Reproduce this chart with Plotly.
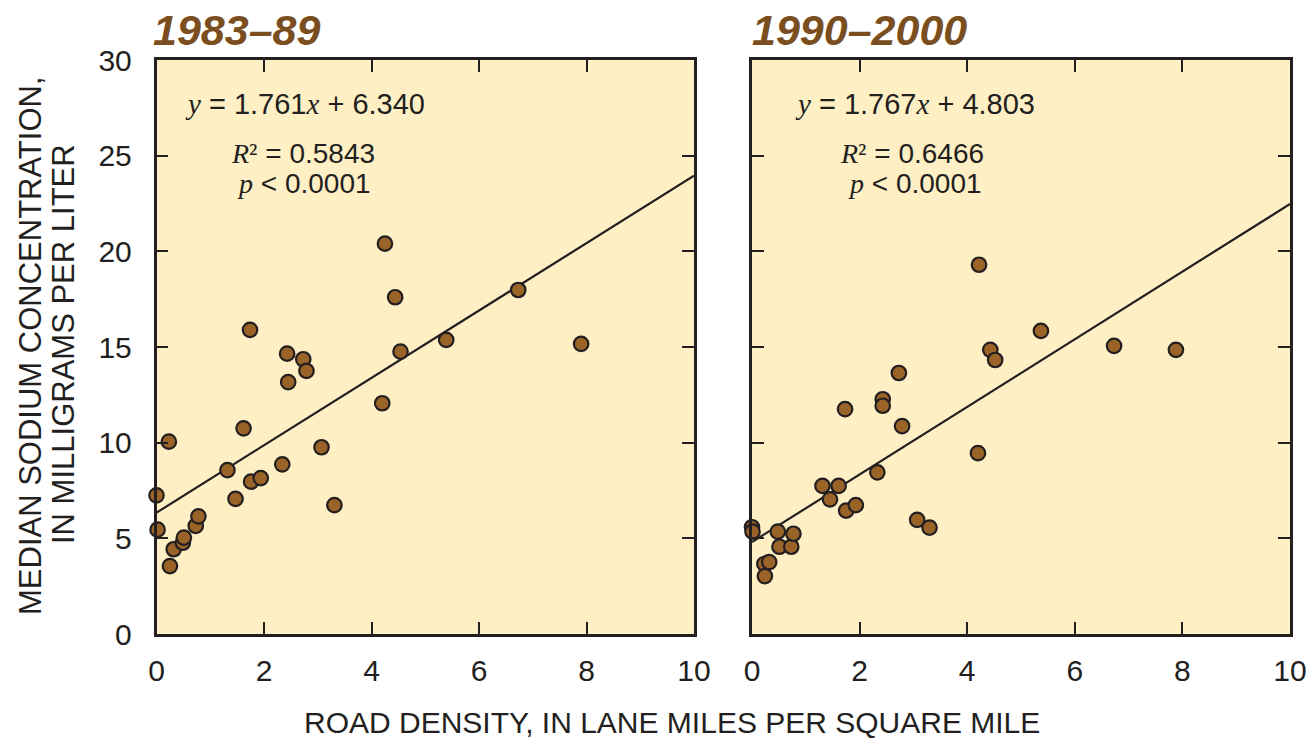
import plotly.graph_objects as go

# ---- data ----
x_8389 = [0.00, 0.02, 0.23, 0.25, 0.32, 0.49, 0.51, 0.73, 0.78, 1.32, 1.47, 1.62, 1.74, 1.76, 1.94,
          2.34, 2.43, 2.45, 2.73, 2.79, 3.07, 3.31, 4.20, 4.25, 4.44, 4.54, 5.39, 6.73, 7.90]
y_8389 = [7.25, 5.45, 10.05, 3.55, 4.43, 4.77, 5.04, 5.65, 6.15, 8.57, 7.06, 10.75, 15.90, 7.96, 8.15,
          8.87, 14.65, 13.16, 14.36, 13.75, 9.76, 6.74, 12.06, 20.40, 17.60, 14.76, 15.37, 17.98, 15.16]

x_9000 = [0.00, 0.01, 0.23, 0.24, 0.32, 0.48, 0.51, 0.73, 0.77, 1.31, 1.45, 1.61, 1.73, 1.75, 1.93,
          2.33, 2.43, 2.43, 2.73, 2.79, 3.07, 3.30, 4.20, 4.22, 4.43, 4.52, 5.37, 6.73, 7.88]
y_9000 = [5.58, 5.35, 3.66, 3.03, 3.76, 5.35, 4.56, 4.56, 5.24, 7.74, 7.04, 7.74, 11.75, 6.45, 6.74,
          8.45, 12.27, 11.93, 13.64, 10.86, 5.96, 5.56, 9.45, 19.30, 14.85, 14.32, 15.84, 15.06, 14.85]

panel_titles = ["1983\u201389", "1990\u20132000"]
slopes = [1.761, 1.767]
intercepts = [6.340, 4.803]
r2_values = ["0.5843", "0.6466"]
p_text = "0.0001"
x_range = [0, 10]
y_range = [0, 30]
x_ticks = [0, 2, 4, 6, 8, 10]
y_ticks = [0, 5, 10, 15, 20, 25, 30]
x_title = "ROAD DENSITY, IN LANE MILES PER SQUARE MILE"
y_title_lines = ["MEDIAN SODIUM CONCENTRATION,", "IN MILLIGRAMS PER LITER"]

# ---- styles ----
BG = "#FEEFC4"
BROWN = "#9A6428"
DARK = "#231F20"
TITLE_C = "#7A4E1E"
SANS = "Liberation Sans, Arial, sans-serif"
SERIF = "Liberation Serif, Times New Roman, serif"

W, H = 1314, 740
px_x = lambda p: p / W
px_y = lambda p: 1 - p / H

domains_x = [[px_x(156.5), px_x(694)], [px_x(752), px_x(1290)]]
domain_y = [px_y(634), px_y(60)]

fig = go.Figure()

series = [(x_8389, y_8389), (x_9000, y_9000)]
for i, (xs, ys) in enumerate(series):
    xa = "x" if i == 0 else "x2"
    ya = "y" if i == 0 else "y2"
    lx = [x_range[0], x_range[1]]
    ly = [slopes[i] * v + intercepts[i] for v in lx]
    fig.add_trace(go.Scatter(x=lx, y=ly, mode="lines", xaxis=xa, yaxis=ya,
                             line=dict(color=DARK, width=2.2), showlegend=False,
                             hoverinfo="skip"))
    fig.add_trace(go.Scatter(x=xs, y=ys, mode="markers", xaxis=xa, yaxis=ya,
                             marker=dict(size=14.5, color=BROWN, line=dict(color=DARK, width=2.2)),
                             cliponaxis=False, showlegend=False))

axis_common = dict(showgrid=False, zeroline=False, showline=True, linecolor=DARK, linewidth=2.5,
                   mirror="ticks", ticks="inside", ticklen=12, tickwidth=1.5, tickcolor=DARK,
                   automargin=False,
                   tickfont=dict(family=SANS, size=30, color=DARK))

fig.update_layout(
    width=W, height=H,
    autosize=False,
    margin=dict(l=0, r=0, t=0, b=0, pad=0, autoexpand=False),
    paper_bgcolor="white",
    plot_bgcolor=BG,
    xaxis=dict(domain=domains_x[0], range=x_range, tickvals=x_ticks, anchor="y",
               ticklabelstandoff=8, **axis_common),
    yaxis=dict(domain=domain_y, range=y_range, tickvals=y_ticks, anchor="x",
               ticklabelstandoff=16, **axis_common),
    xaxis2=dict(domain=domains_x[1], range=x_range, tickvals=x_ticks, anchor="y2",
                ticklabelstandoff=8, **axis_common),
    yaxis2=dict(domain=domain_y, range=y_range, tickvals=y_ticks, anchor="x2",
                showticklabels=False, **axis_common),
)

annotations = []
title_left = [151, 750]
eq_centers = [(305, 303, 304), (915, 912, 915)]
for i in range(2):
    annotations.append(dict(
        x=px_x(title_left[i]), y=px_y(30), xref="paper", yref="paper",
        xanchor="left", yanchor="middle", showarrow=False,
        text=f"<b><i>{panel_titles[i]}</i></b>",
        font=dict(family=SANS, size=43, color=TITLE_C)))
    c1, c2, c3 = eq_centers[i]
    annotations.append(dict(
        x=px_x(c1), y=px_y(104), xref="paper", yref="paper", xanchor="center", yanchor="middle",
        showarrow=False,
        text=(f"<span style='font-family:{SERIF}'><i>y</i></span> = {slopes[i]:.3f}"
              f"<span style='font-family:{SERIF}'><i>x</i></span> + {intercepts[i]:.3f}"),
        font=dict(family=SANS, size=29, color=DARK)))
    annotations.append(dict(
        x=px_x(c2), y=px_y(153), xref="paper", yref="paper", xanchor="center", yanchor="middle",
        showarrow=False,
        text=(f"<span style='font-family:{SERIF}'><i>R</i>\u00b2</span> = {r2_values[i]}"),
        font=dict(family=SANS, size=28, color=DARK)))
    annotations.append(dict(
        x=px_x(c3), y=px_y(183), xref="paper", yref="paper", xanchor="center", yanchor="middle",
        showarrow=False,
        text=(f"<span style='font-family:{SERIF}'><i>p</i></span> &lt; {p_text}"),
        font=dict(family=SANS, size=28, color=DARK)))

annotations.append(dict(
    x=px_x(672), y=px_y(722), xref="paper", yref="paper", xanchor="center", yanchor="middle",
    showarrow=False, text=x_title,
    font=dict(family=SANS, size=30, color=DARK)))
for j, (cx, cy) in enumerate([(30, 346), (63, 344)]):
    annotations.append(dict(
        x=px_x(cx), y=px_y(cy), xref="paper", yref="paper", xanchor="center", yanchor="middle",
        showarrow=False, textangle=-90, text=y_title_lines[j],
        font=dict(family=SANS, size=31, color=DARK)))

fig.update_layout(annotations=annotations)
fig.write_html("out.html")
